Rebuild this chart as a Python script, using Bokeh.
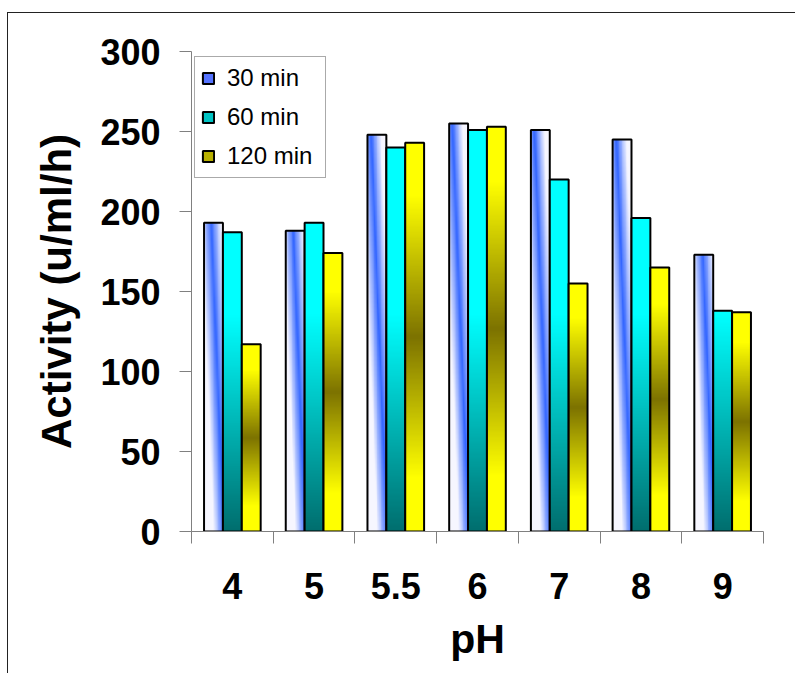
import numpy as np
from bokeh.plotting import figure
from bokeh.models import Range1d, FixedTicker, Legend, LegendItem
from bokeh.embed import file_html
from bokeh.resources import INLINE

# ---- data ----
ph_labels = ["4", "5", "5.5", "6", "7", "8", "9"]
act_30 = [193, 188, 248, 255, 251, 245, 173]
act_60 = [187, 193, 240, 251, 220, 196, 138]
act_120 = [117, 174, 243, 253, 155, 165, 137]
series_names = ["30 min", "60 min", "120 min"]
y_ticks = [0, 50, 100, 150, 200, 250, 300]

Y_MAX = 300
BAR_W = 0.231
offsets = [-BAR_W, 0.0, BAR_W]
centers = np.arange(1, len(ph_labels) + 1)

FONT = "Liberation Sans"


def pack(rgb):
    rows, cols, _ = rgb.shape
    img = np.empty((rows, cols), dtype=np.uint32)
    view = img.view(dtype=np.uint8).reshape((rows, cols, 4))
    view[..., 0:3] = np.clip(rgb, 0, 255).astype(np.uint8)
    view[..., 3] = 255
    return img


def grad_blue(val, rows=320, cols=24):
    y = (np.arange(rows) + 0.5) / rows * val
    vabs = (Y_MAX - y) / Y_MAX
    u = (np.arange(cols) + 0.5) / cols
    d = np.abs(u[None, :] - vabs[:, None])
    f = np.clip(d / 0.5, 0, 1)[..., None]
    blue = np.array([51, 102, 255], float)
    white = np.array([246, 246, 255], float)
    return pack(blue + (white - blue) * f)


def grad_cyan(val, rows=320, cols=4):
    y = (np.arange(rows) + 0.5) / rows * val
    f = np.clip(y / 135.0, 0, 1)[:, None, None] * np.ones((1, cols, 1))
    teal = np.array([0, 110, 110], float)
    cyan = np.array([0, 255, 255], float)
    return pack(teal + (cyan - teal) * f)


def grad_yellow(val, rows=320, cols=4):
    t = (np.arange(rows) + 0.5) / rows
    f = np.clip(np.abs(t - 0.5) / 0.36, 0, 1)[:, None, None] * np.ones((1, cols, 1))
    olive = np.array([125, 115, 0], float)
    yellow = np.array([255, 255, 0], float)
    return pack(olive + (yellow - olive) * f)


p = figure(
    frame_width=572, frame_height=480,
    x_range=Range1d(0.5, 7.5), y_range=Range1d(0, Y_MAX),
    output_backend="svg", toolbar_location=None,
    min_border_left=183, min_border_right=32,
    min_border_top=38, min_border_bottom=142,
    margin=(12, 0, 0, 7),
)
p.styles = {"border-left": "1px solid #222222", "border-top": "1px solid #222222"}
p.xgrid.visible = False
p.ygrid.visible = False
p.outline_line_color = None
p.background_fill_color = "white"
p.border_fill_color = "white"

series = [act_30, act_60, act_120]
legend_cols = ["#5573ff", "#00c4c4", "#b8b000"]
grads = [grad_blue, grad_cyan, grad_yellow]
items = []
for name, vals, off, lc, gfun in zip(series_names, series, offsets, legend_cols, grads):
    xs = centers + off
    base = p.vbar(x=xs, top=vals, width=BAR_W, fill_color=lc, line_color=None)
    p.image_rgba(image=[gfun(v) for v in vals], x=list(xs - BAR_W / 2), y=[0] * len(vals),
                 dw=[BAR_W] * len(vals), dh=list(vals))
    outline = p.vbar(x=xs, top=vals, width=BAR_W, fill_alpha=0, line_color="black", line_width=2)
    items.append(LegendItem(label=name, renderers=[base, outline]))

legend = Legend(
    items=items, location=(3, 353),
    label_text_font=FONT, label_text_font_size="24px", label_text_color="black",
    glyph_width=14, glyph_height=14, label_height=30, spacing=9, padding=6,
    label_standoff=12, label_width=92,
    border_line_color="#555555", border_line_width=1,
    background_fill_color="white", background_fill_alpha=1.0, margin=0,
)
p.add_layout(legend)

xa = p.xaxis[0]
xa.ticker = FixedTicker(ticks=list(centers), minor_ticks=list(np.arange(0.5, 8.0, 1.0)))
xa.major_label_overrides = {int(c): lab for c, lab in zip(centers, ph_labels)}
xa.major_tick_line_color = None
xa.major_tick_out = 0
xa.major_tick_in = 0
xa.minor_tick_out = 12
xa.minor_tick_in = 0
xa.minor_tick_line_color = "#808080"
xa.axis_line_color = "#808080"
xa.major_label_text_font = FONT
xa.major_label_text_font_size = "36px"
xa.major_label_text_font_style = "bold"
xa.major_label_text_color = "black"
xa.major_label_standoff = 29
xa.axis_label = "pH"
xa.axis_label_text_font = FONT
xa.axis_label_text_font_size = "41px"
xa.axis_label_text_font_style = "bold"
xa.axis_label_text_color = "black"
xa.axis_label_standoff = 14

ya = p.yaxis[0]
ya.ticker = FixedTicker(ticks=y_ticks, minor_ticks=[])
ya.major_tick_out = 12
ya.major_tick_in = 0
ya.major_tick_line_color = "#808080"
ya.axis_line_color = "#808080"
ya.major_label_text_font = FONT
ya.major_label_text_font_size = "36px"
ya.major_label_text_font_style = "bold"
ya.major_label_text_color = "black"
ya.major_label_standoff = 19
ya.axis_label = "Activity (u/ml/h)"
ya.axis_label_text_font = FONT
ya.axis_label_text_font_size = "42px"
ya.axis_label_text_font_style = "bold"
ya.axis_label_text_color = "black"
ya.axis_label_standoff = 17

open("out.html", "w").write(file_html(p, INLINE))
